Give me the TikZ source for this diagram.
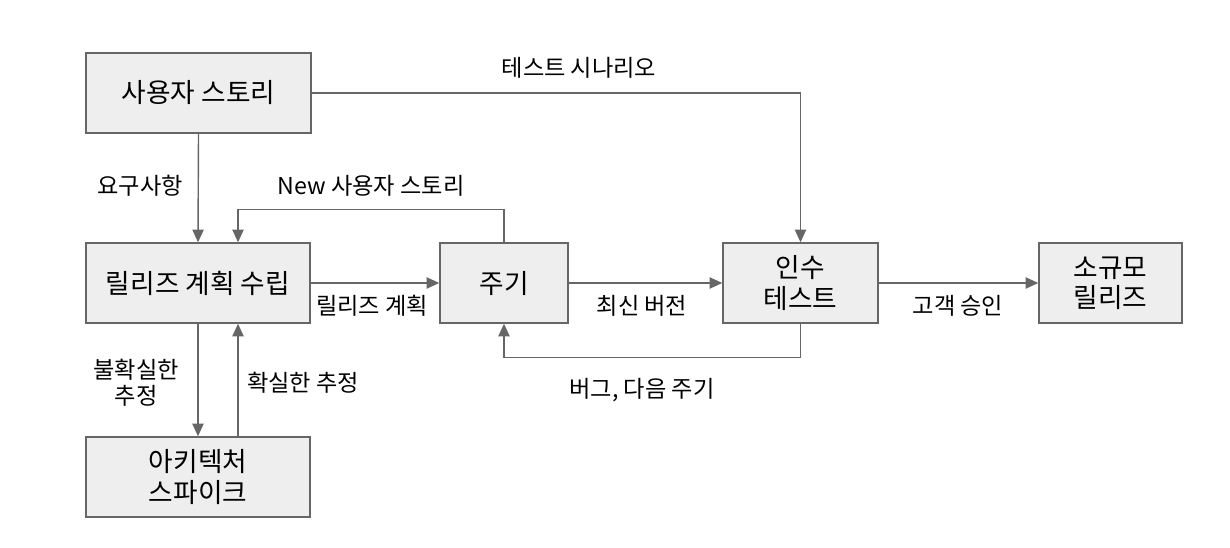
\documentclass[tikz,border=0pt]{standalone}
\usepackage{fontspec}
\setmainfont{Noto Sans CJK KR}
\usepackage{xcolor}
\usetikzlibrary{arrows.meta, positioning}

\definecolor{boxfill}{HTML}{EEEEEE}
\definecolor{lineg}{HTML}{666666}

\begin{document}
\begin{tikzpicture}[
  x=0.025cm, y=-0.025cm,
  every node/.style = {font=\fontsize{16.5}{18.5}\selectfont},
  box/.style = {
    rectangle, draw=lineg, line width=1pt, fill=boxfill,
    minimum height=2cm, align=center,
    font=\fontsize{19}{21.5}\selectfont
  },
  lbl/.style = {align=center, inner sep=1pt},
  arr/.style = {-{Triangle[length=9pt, width=8pt]}, line width=1pt, lineg}
]
\useasboundingbox (0,0) rectangle (1230,547);

% Boxes
\node[box, minimum width=5.625cm] (story) at (198.5,93) {사용자 스토리};
\node[box, minimum width=5.6cm] (plan) at (198,283) {릴리즈 계획 수립};
\node[box, minimum width=3.2cm] (cycle) at (504,283) {주기};
\node[box, minimum width=3.875cm] (accept) at (800.5,283) {인수\\테스트};
\node[box, minimum width=3.575cm] (small) at (1110.5,283) {소규모\\릴리즈};
\node[box, minimum width=5.6cm] (spike) at (198,477) {아키텍처\\스파이크};

% Labels
\node[lbl] (l_scen) at (579,68) {테스트 시나리오};
\node[lbl] (l_req) at (140,186) {요구사항};
\node[lbl] (l_new) at (371,186) {New 사용자 스토리};
\node[lbl] (l_plan) at (372,306) {릴리즈 계획};
\node[lbl] (l_ver) at (642,306) {최신 버전};
\node[lbl] (l_bug) at (642,390) {버그, 다음 주기};
\node[lbl] (l_ok) at (958,306) {고객 승인};
\node[lbl] (l_unc) at (136,383) {불확실한\\추정};
\node[lbl] (l_cert) at (303,383) {확실한 추정};

% Arrows
\draw[arr] (story.east) -| (accept.north);
\draw[arr] (story.south) -- (plan.north);
\draw[arr] (cycle.north) -- ++(0,-33) -| ([xshift=1cm]plan.north);
\draw[arr] (plan.east) -- (cycle.west);
\draw[arr] (cycle.east) -- (accept.west);
\draw[arr] (accept.south) -- ++(0,34) -| (cycle.south);
\draw[arr] (accept.east) -- (small.west);
\draw[arr] (plan.south) -- (spike.north);
\draw[arr] ([xshift=1cm]spike.north) -- ([xshift=1cm]plan.south);

\end{tikzpicture}
\end{document}
